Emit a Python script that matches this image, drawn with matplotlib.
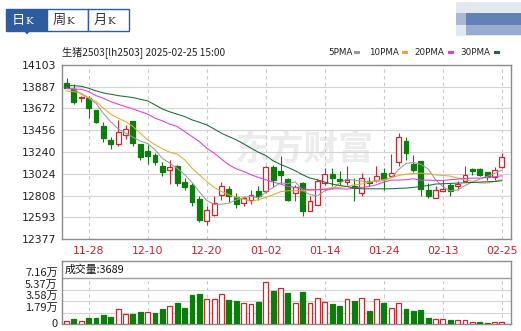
import matplotlib
matplotlib.use("Agg")
import matplotlib.pyplot as plt
from matplotlib.patches import Rectangle, Polygon
import numpy as np
import pandas as pd

plt.rcParams['font.family'] = ['DejaVu Sans', 'Noto Sans CJK SC']
CJK = ['Noto Sans CJK SC', 'DejaVu Sans']

# ---- data ----
open_ = [13921, 13865, 13773, 13773, 13657, 13499, 13360, 13324, 13410, 13552,
         13321, 13252, 13212, 13103, 13057, 13097, 12938, 12908, 12776, 12559,
         12618, 12809, 12875, 12793, 12733, 12766, 12849, 12849, 13087, 13047,
         12974, 12832, 12931, 12651, 12717, 12931, 13024, 12971, 12938, 12898,
         12832, 12948, 12958, 13031, 13004, 13139, 13351, 13120, 13153, 12862,
         12783, 12858, 12908, 12898, 12948, 13073, 13073, 13037, 12988, 13090]
high = [13971, 13912, 13799, 13799, 13660, 13535, 13393, 13558, 13509, 13552,
        13321, 13311, 13229, 13139, 13162, 13113, 12981, 12931, 12800, 12700,
        12800, 12938, 12898, 12832, 12806, 12865, 12905, 13097, 13113, 13196,
        12981, 12915, 12941, 12806, 12971, 13080, 13080, 13047, 13097, 12981,
        13031, 12990, 13097, 13080, 13219, 13426, 13384, 13212, 13153, 12931,
        12898, 12964, 12931, 12948, 13106, 13080, 13080, 13037, 13087, 13228]
low = [13872, 13720, 13733, 13582, 13530, 13337, 13268, 13301, 13367, 13295,
       13163, 13123, 13113, 13004, 12922, 12898, 12865, 12700, 12545, 12512,
       12601, 12766, 12740, 12684, 12700, 12724, 12766, 12832, 12889, 12931,
       12757, 12757, 12601, 12651, 12717, 12915, 12898, 12908, 12915, 12757,
       12806, 12900, 12941, 12865, 12991, 13097, 13162, 13040, 12800, 12783,
       12783, 12849, 12799, 12865, 12941, 13014, 12998, 12965, 12965, 13080]
close = [13879, 13740, 13789, 13674, 13535, 13377, 13321, 13443, 13466, 13327,
         13186, 13196, 13136, 13037, 13090, 12932, 12889, 12743, 12568, 12667,
         12733, 12898, 12799, 12724, 12783, 12809, 12799, 13087, 12965, 13007,
         12767, 12892, 12658, 12757, 12948, 13021, 12981, 12955, 12958, 12882,
         12981, 12935, 13004, 12971, 13031, 13393, 13228, 13064, 12875, 12800,
         12865, 12875, 12855, 12925, 13014, 13047, 13014, 12991, 13064, 13195]
prior_close = [13775, 14049, 13874, 13783]  # closes before the window, for MA5

ma10 = [13846, 13839, 13823, 13780, 13740, 13674, 13615, 13575, 13542, 13493,
        13426, 13361, 13311, 13271, 13238, 13219, 13163, 13080, 13014, 12948,
        12889, 12849, 12816, 12790, 12773, 12750, 12767, 12790, 12816, 12846,
        12856, 12856, 12856, 12859, 12866, 12875, 12889, 12889, 12898, 12915,
        12922, 12941, 12955, 12965, 12984, 13007, 13021, 13027, 13030, 13024,
        13014, 13007, 13001, 12981, 12965, 12948, 12932, 12932, 12948, 12965]
ma20 = [13872, 13865, 13862, 13839, 13799, 13773, 13740, 13714, 13690, 13667,
        13641, 13615, 13575, 13549, 13516, 13493, 13443, 13393, 13344, 13278,
        13229, 13169, 13113, 13073, 13047, 13014, 12988, 12965, 12941, 12922,
        12898, 12889, 12875, 12866, 12866, 12869, 12875, 12875, 12872, 12882,
        12889, 12898, 12915, 12941, 12961, 12961, 12965, 12974, 12961, 12961,
        12958, 12958, 12965, 12971, 12978, 12981, 12981, 12988, 12994, 13004]
ma30 = [13898, 13898, 13892, 13872, 13846, 13826, 13813, 13799, 13790, 13780,
        13763, 13747, 13707, 13667, 13638, 13615, 13592, 13559, 13535, 13509,
        13469, 13426, 13393, 13361, 13321, 13278, 13238, 13205, 13153, 13116,
        13087, 13054, 13014, 12981, 12965, 12941, 12922, 12908, 12898, 12882,
        12875, 12875, 12875, 12875, 12875, 12879, 12882, 12889, 12898, 12908,
        12922, 12925, 12928, 12932, 12935, 12938, 12941, 12945, 12948, 12955]

volume = [4000, 7300, 4000, 9400, 9400, 13500, 11000, 22900, 15000, 15600,
          18700, 18700, 17200, 23400, 27600, 32800, 25000, 44700, 46800, 39500,
          39500, 46300, 37400, 35900, 32800, 31700, 34300, 65000, 51500, 55600,
          48400, 32200, 50000, 32200, 40000, 33800, 31200, 28100, 38500, 35400,
          40000, 20300, 38500, 32800, 24400, 32200, 23400, 20300, 21800, 9400,
          7300, 7300, 6200, 5700, 5700, 3100, 3100, 1600, 3100, 3689]

date_ticks = [3, 11, 19, 27, 35, 43, 51, 59]
date_labels = ['11-28', '12-10', '12-20', '01-02', '01-14', '01-24', '02-13', '02-25']
price_ticks = [12377, 12593, 12808, 13024, 13240, 13456, 13672, 13887, 14103]
vol_ticks = [0, 17900, 35800, 53700, 71600]
vol_labels = ['0', '1.79万', '3.58万', '5.37万', '7.16万']

RED = '#d7242c'
GREEN = '#0b7d0b'
BLUE = '#2d5d9f'
MA_COLORS = ['#9a9a9a', '#e8a92e', '#e33be3', '#1b6b3a']
GRID = '#d4d4d4'
FRAME = '#8c8c8c'

W, H = 521, 331
fig = plt.figure(figsize=(W / 100, H / 100), dpi=100)


def fx(px):
    return px / W


def fy(py):
    return 1 - py / H


# ---- tabs at the top ----
tabs = ['日', '周', '月']
for k, name in enumerate(tabs):
    x0 = 6 + 41 * k
    sel = k == 0
    fig.patches.append(Rectangle((fx(x0), fy(31)), fx(41), 22 / H, transform=fig.transFigure,
                                 facecolor=BLUE if sel else 'white', edgecolor=BLUE, lw=1))
    fig.text(fx(x0 + 19), fy(20.5), name, family=CJK, fontsize=9.5, ha='right', va='center',
             color='white' if sel else '#333333')
    fig.text(fx(x0 + 19), fy(21), 'K', family='DejaVu Serif', fontsize=7.5, ha='left', va='center',
             color='white' if sel else '#333333')
fig.patches.append(Polygon([(fx(24), fy(31)), (fx(30), fy(31)), (fx(27), fy(34.5))],
                           closed=True, transform=fig.transFigure, facecolor=BLUE, edgecolor='none'))

# blurred block at the top right
fig.patches.append(Rectangle((fx(456), fy(36)), fx(65), 34 / H, transform=fig.transFigure,
                             facecolor='#e2e7f0', edgecolor='none'))
fig.patches.append(Rectangle((fx(456), fy(25)), fx(10), 12 / H, transform=fig.transFigure,
                             facecolor='#aab8d3', edgecolor='none'))
fig.patches.append(Rectangle((fx(466), fy(25)), fx(55), 12 / H, transform=fig.transFigure,
                             facecolor='#6281b4', edgecolor='none'))
fig.patches.append(Rectangle((fx(466), fy(35)), fx(55), 10 / H, transform=fig.transFigure,
                             facecolor='#9aacce', edgecolor='none'))

# header line
fig.text(fx(62), fy(52), '生猪2503[lh2503] 2025-02-25 15:00', family=CJK, fontsize=7.3,
         ha='left', va='center', color='#222222')
legend_items = [('5PMA', 328, 354), ('10PMA', 369, 402), ('20PMA', 414, 448), ('30PMA', 460, 494)]
for (lbl, tx, sx), col in zip(legend_items, MA_COLORS):
    fig.text(fx(tx), fy(52.5), lbl, fontsize=6.3, ha='left', va='center', color='#222222')
    fig.patches.append(Rectangle((fx(sx), fy(54)), fx(6), 3 / H, transform=fig.transFigure,
                                 facecolor=col, edgecolor='none'))

# ---- price panel ----
x = np.arange(len(close))
o = np.array(open_, float)
c = np.array(close, float)
up = c >= o

ax = fig.add_axes([fx(62), fy(239), fx(449), 174 / H])
ax.set_xlim(-0.61, 60.23)
ax.set_ylim(12377, 14103)
ax.set_yticks(price_ticks)
ax.set_yticklabels([str(v) for v in price_ticks])
ax.set_xticks(date_ticks)
ax.set_xticklabels(date_labels)
ax.tick_params(axis='both', length=0, labelsize=7.8)
ax.tick_params(axis='y', pad=4, labelcolor='#222222')
ax.tick_params(axis='x', pad=5, labelcolor='#c8202a')
ax.grid(axis='y', color=GRID, lw=0.8)
ax.grid(axis='x', color='#c8c8c8', lw=0.8, ls=(0, (3, 3)))
ax.set_axisbelow(True)
for s in ax.spines.values():
    s.set_color(FRAME)
    s.set_linewidth(1)

ax.text(0.54, 0.52, '东方财富', transform=ax.transAxes, family=CJK, fontsize=25,
        fontweight='bold', color='#ececec', ha='center', va='center', zorder=0)

body_lo = np.minimum(o, c)
body_h = np.maximum(np.abs(c - o), 6)
cols = np.where(up, RED, GREEN)
ax.vlines(x, low, high, colors=cols, lw=0.8, zorder=2)
ax.bar(x, body_h, bottom=body_lo, width=0.66, color=np.where(up, 'white', GREEN),
       edgecolor=cols, lw=0.9, zorder=3)

ma5 = pd.Series(prior_close + close).rolling(5).mean().to_numpy()[len(prior_close):]
for ma, col in zip([ma5, ma10, ma20, ma30], MA_COLORS):
    ax.plot(x, ma, color=col, lw=0.75, zorder=4)

# ---- volume panel ----
vol_up = np.r_[True, c[1:] >= c[:-1]]
axv = fig.add_axes([fx(62), fy(324), fx(449), 63 / H])
axv.set_xlim(-0.61, 60.23)
vmax = 71600 * 63 / 46
axv.set_ylim(0, vmax)
axv.set_yticks(vol_ticks)
axv.set_yticklabels(vol_labels, family=CJK)
axv.set_xticks(date_ticks)
axv.set_xticklabels([])
axv.tick_params(axis='both', length=0, labelsize=8, labelcolor='#222222')
axv.tick_params(axis='y', pad=3)
for lbl in axv.get_yticklabels():
    lbl.set_va('center' if lbl.get_text() == '0' else 'bottom')
axv.grid(axis='y', color=GRID, lw=0.8)
axv.set_axisbelow(True)
for xt in date_ticks:
    axv.plot([xt, xt], [0, 71600], color='#c8c8c8', lw=0.8, ls=(0, (3, 3)), zorder=0)
axv.axhline(71600, color='#a0a0a0', lw=1, zorder=1)
for s in axv.spines.values():
    s.set_color(FRAME)
    s.set_linewidth(1)
vcols = np.where(vol_up, RED, GREEN)
axv.bar(x, volume, width=0.66, color=np.where(vol_up, 'white', GREEN), edgecolor=vcols,
        lw=0.9, zorder=3)
axv.text(0.005, (71600 + vmax) / 2 / vmax, '成交量:3689', transform=axv.transAxes,
         family=CJK, fontsize=7.8, ha='left', va='center', color='#111111')

fig.savefig('out.png', dpi=100)
